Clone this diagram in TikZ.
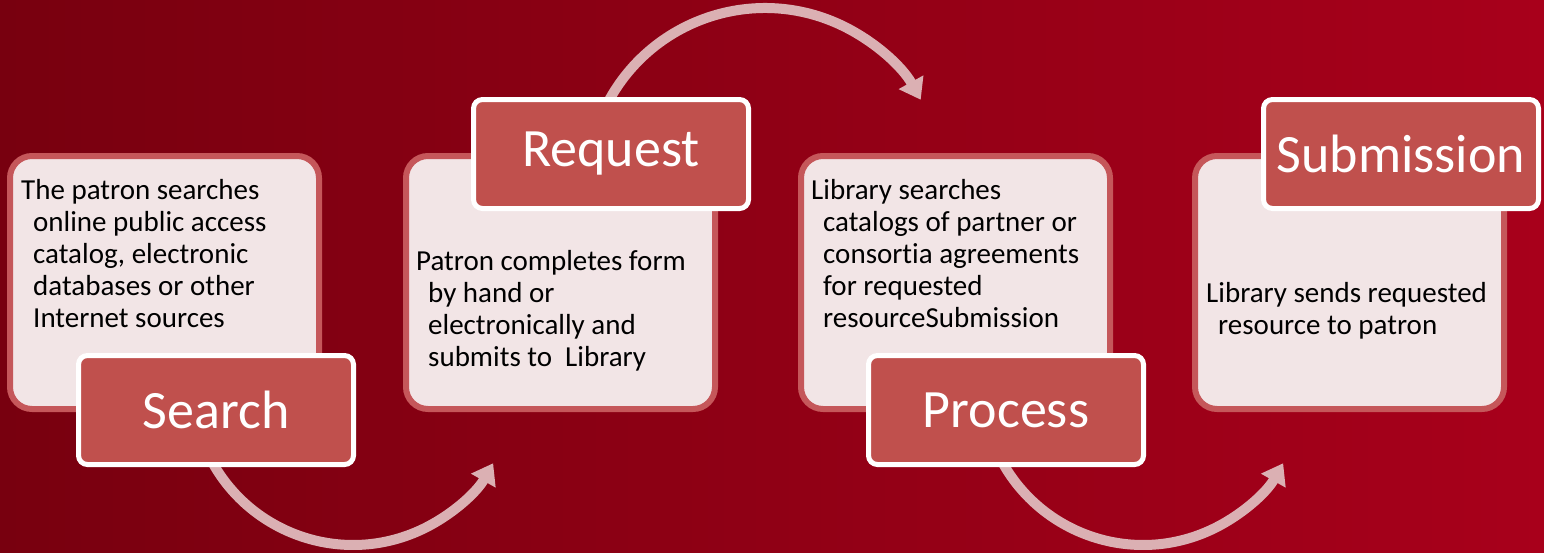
\documentclass[tikz,border=0pt]{standalone}
\usepackage{fontspec}
\setmainfont{Carlito}[Ligatures={NoCommon},Contextuals={NoAlternate}]
\usetikzlibrary{arrows.meta}
\definecolor{bgleft}{HTML}{78000F}
\definecolor{bgright}{HTML}{A8001B}
\definecolor{boxfill}{HTML}{F2E5E6}
\definecolor{boxline}{HTML}{C5575A}
\definecolor{labfill}{HTML}{C0504D}
\definecolor{flowcol}{HTML}{DBB0B3}
\tikzset{
  infobox/.style={draw=boxline, line width=6pt, fill=boxfill, rounded corners=22pt,
    minimum width=309pt, minimum height=253pt, inner sep=0pt},
  labelbox/.style={draw=white, line width=5pt, fill=labfill, rounded corners=9pt,
    minimum width=275pt, minimum height=109pt, inner sep=0pt, text=white,
    font=\fontsize{54}{60}\selectfont},
  bodytext/.style={anchor=base west, inner sep=0pt, text=black,
    font=\fontsize{29}{32}\selectfont},
  flow/.style={draw=flowcol, line width=10pt, -{Triangle[width=27pt,length=20pt]}}
}
\newcommand{\ind}{\hspace*{12pt}}
\begin{document}
\begin{tikzpicture}[x=1pt,y=-1pt]
\useasboundingbox (0,0) rectangle (1544,552);
\shade[left color=bgleft, right color=bgright] (0,0) rectangle (1544,552);

% connectors (behind boxes)
\coordinate (a1s) at (207.1,452.0);
\coordinate (a2s) at (603.7,110.8);
\coordinate (a3s) at (997.1,452.0);
\draw[flow] (a1s) arc[start angle=205, end angle=330.5, radius=161pt];
\draw[flow] (a2s) arc[start angle=155, end angle=29, radius=178pt];
\draw[flow] (a3s) arc[start angle=205, end angle=330.5, radius=161pt];

% info boxes
\node[infobox] (b1) at (164.5,282.5) {};
\node[infobox] (b2) at (560.5,282.5) {};
\node[infobox] (b3) at (955.5,282.5) {};
\node[infobox] (b4) at (1349.5,282.5) {};

% body texts
\node[bodytext] (t1) at (21,199) {\parbox[t]{320pt}{The patron searches\\\ind online public access\\\ind catalog, electronic\\\ind databases or other\\\ind Internet sources}};
\node[bodytext] (t2) at (416,270) {\parbox[t]{320pt}{Patron completes form\\\ind by hand or\\\ind electronically and\\\ind submits to~ Library}};
\node[bodytext] (t3) at (811,199) {\parbox[t]{320pt}{Library searches\\\ind catalogs of partner or\\\ind consor{}tia agreements\\\ind for requested\\\ind resourceSubmission}};
\node[bodytext] (t4) at (1206,302) {\parbox[t]{320pt}{Library sends requested\\\ind resource to patron}};

% labels
\node[labelbox] (l1) at (216,410) {Search};
\node[labelbox] (l2) at (611,154) {Request};
\node[labelbox] (l3) at (1006,410) {Process};
\node[labelbox] (l4) at (1401,154) {Submission};
\end{tikzpicture}
\end{document}
